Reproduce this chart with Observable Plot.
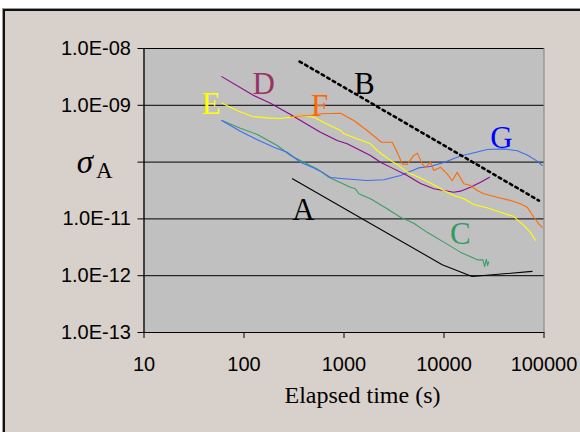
<!DOCTYPE html>
<html>
<head>
<meta charset="utf-8">
<script src="https://cdn.jsdelivr.net/npm/d3@7"></script>
<script src="https://cdn.jsdelivr.net/npm/@observablehq/plot@0.6"></script>
<style>
  html, body { margin: 0; padding: 0; background: #fff; }
  #wrap { position: relative; width: 580px; height: 432px; overflow: hidden; background: #fff; }
  #panel { position: absolute; left: 3px; top: 9px; width: 580px; height: 430px;
           background: #d8d0ca; border-left: 2px solid #111; border-top: 2px solid #111;
           box-shadow: -1px -1px 0 #999; }
  #chart { position: absolute; left: 0; top: 0; }
</style>
</head>
<body>
<div id="wrap"><div id="panel"></div><div id="chart"></div></div>
<script>
// ---- axis ticks ----
const xTicks = [10, 100, 1000, 10000, 100000];
const xTickLabels = ["10", "100", "1000", "10000", "100000"];
const yTicks = [1e-13, 1e-12, 1e-11, 1e-10, 1e-9, 1e-8];
const yTickLabels = ["1.0E-13", "1.0E-12", "1.0E-11", "", "1.0E-09", "1.0E-08"];
const xTitle = "Elapsed time (s)";

// ---- series (elapsed time s, Allan deviation) ----
const aTime  = [305, 9600, 19100, 76000];
const aSigma = [5.1e-11, 1.56e-12, 9.7e-13, 1.19e-12];

const bTime  = [360, 89000];
const bSigma = [5.9e-9, 2.1e-11];

const cTime  = [60, 92, 136, 215, 292, 396, 540, 705, 1160, 1300, 1406, 1840, 2700, 3670, 4990, 6790, 9950, 14600, 21500, 24500, 25500, 26500, 27300, 28000];
const cSigma = [5.4e-10, 3.95e-10, 3.06e-10, 1.96e-10, 1.31e-10, 9.95e-11, 7.6e-11, 5.4e-11, 3.6e-11, 3.4e-11, 2.77e-11, 2.26e-11, 1.51e-11, 1.07e-11, 8.4e-12, 5.8e-12, 3.9e-12, 2.6e-12, 1.9e-12, 1.9e-12, 1.45e-12, 1.95e-12, 1.5e-12, 1.75e-12];

const dTime  = [60, 125, 184, 292, 429, 582, 855, 1076, 1462, 1840, 2317, 3150, 4285, 5820, 7910, 9950, 12530, 14600, 18400, 23200, 28500];
const dSigma = [3.2e-9, 1.49e-9, 1.09e-9, 6.9e-10, 4.6e-10, 3.36e-10, 2.4e-10, 2.1e-10, 1.6e-10, 1.31e-10, 9.95e-11, 7.6e-11, 5.8e-11, 4.2e-11, 3.4e-11, 3.16e-11, 2.95e-11, 3.08e-11, 3.6e-11, 4.4e-11, 5.4e-11];

const eTime  = [60, 85, 121, 171, 232, 292, 367, 499, 628, 923, 995, 1356, 1840, 2150, 2500, 2917, 3404, 4285, 5820, 7330, 9950, 12530, 15800, 19900, 27000, 36700, 49900, 62800, 73300, 82200];
const eSigma = [1.1e-9, 8.1e-10, 6.35e-10, 6.0e-10, 5.86e-10, 6.2e-10, 6.6e-10, 6.2e-10, 5.0e-10, 3.6e-10, 3.15e-10, 2.57e-10, 2.1e-10, 1.6e-10, 1.31e-10, 1.07e-10, 9.1e-11, 6.6e-11, 5.25e-11, 4.3e-11, 3.16e-11, 2.58e-11, 2.26e-11, 1.79e-11, 1.57e-11, 1.31e-11, 1.1e-11, 7.7e-12, 5.8e-12, 4.2e-12];

const fTime  = [292, 462, 582, 923, 1253, 1706, 2370, 3034, 3404, 3820, 4285, 4990, 5400, 6050, 6530, 7330, 7910, 9230, 10760, 12080, 13550, 15800, 18400, 21500, 25000, 34000, 46200, 58200, 67900, 79100, 88700, 95900];
const fSigma = [6.35e-10, 6.6e-10, 7.1e-10, 7.26e-10, 5.4e-10, 3.6e-10, 2.24e-10, 2.24e-10, 1.49e-10, 9.3e-11, 9.1e-11, 1.31e-10, 1.44e-10, 9.3e-11, 8.1e-11, 9.95e-11, 7.1e-11, 8.1e-11, 6.2e-11, 4.7e-11, 6.6e-11, 4.15e-11, 3.87e-11, 3.16e-11, 2.77e-11, 2.41e-11, 2.11e-11, 1.85e-11, 1.61e-11, 1.07e-11, 8.2e-12, 7.1e-12];

const gTime  = [60, 92, 136, 199, 270, 367, 499, 628, 733, 1076, 1706, 2500, 3670, 5560, 7330, 9950, 14600, 21500, 27000, 39600, 54000, 67900, 85500, 95900];
const gSigma = [5.4e-10, 3.5e-10, 2.47e-10, 1.83e-10, 1.49e-10, 9.95e-11, 7.9e-11, 6.4e-11, 5.36e-11, 5.04e-11, 4.74e-11, 4.88e-11, 5.8e-11, 7.9e-11, 8.4e-11, 9.85e-11, 1.28e-10, 1.51e-10, 1.67e-10, 1.71e-10, 1.58e-10, 1.33e-10, 1.04e-10, 8.7e-11];

// ---- series labels ----
const labelNames = ["A", "B", "C", "D", "E", "F", "G"];
const labelTime  = [394, 1600, 14600, 157, 47, 569, 37600];
const labelSigma = [1.41e-11, 2.32e-9, 5.5e-12, 2.32e-9, 1.03e-9, 9.5e-10, 2.6e-10];
const labelColors = ["#000000", "#000000", "#339966", "#993366", "#ffff00", "#ff6600", "#0000ff"];

const toRows = (ts, ss) => ts.map((t, i) => ({t, s: ss[i]}));
const labels = labelNames.map((n, i) => ({n, t: labelTime[i], s: labelSigma[i], c: labelColors[i]}));
const yLabelMap = new Map(yTicks.map((d, i) => [d, yTickLabels[i]]));
const xLabelMap = new Map(xTicks.map((d, i) => [d, xTickLabels[i]]));

const serif = "'Liberation Serif', 'Times New Roman', serif";
const line = (ts, ss, stroke, extra = {}) =>
  Plot.line(toRows(ts, ss), {x: "t", y: "s", stroke, strokeWidth: 1.1, ...extra});

const chart = Plot.plot({
  width: 580, height: 432,
  marginLeft: 143.5, marginRight: 36.5, marginTop: 48, marginBottom: 100,
  style: {background: "transparent", fontFamily: "'Liberation Sans', Arial, sans-serif", color: "#000"},
  x: {type: "log", domain: [10, 100000]},
  y: {type: "log", domain: [1e-13, 1e-8]},
  marks: [
    Plot.frame({fill: "#c0c0c0", stroke: "#808080"}),
    Plot.gridY(yTicks, {stroke: "#000", strokeOpacity: 1, strokeWidth: 1}),
    Plot.ruleX([10], {stroke: "#000", strokeWidth: 1.2}),
    Plot.ruleY([1e-13], {stroke: "#000", strokeWidth: 1.2}),
    Plot.axisY(yTicks, {tickFormat: d => yLabelMap.get(d), tickSize: 6, tickPadding: 7, fontSize: 20, label: null, stroke: "#000"}),
    Plot.axisX(xTicks, {tickFormat: d => xLabelMap.get(d), tickSize: 6, tickPadding: 18, fontSize: 20, label: null, stroke: "#000"}),
    Plot.text([xTitle], {frameAnchor: "bottom", dx: 18.5, dy: 70, fontSize: 24, fontFamily: serif, fill: "#000"}),
    Plot.text(["σ"], {y: () => 1e-10, frameAnchor: "left", textAnchor: "middle", dx: -59, dy: 0.5, fontSize: 33, fontStyle: "italic", fontFamily: serif, fill: "#000"}),
    Plot.text(["A"], {y: () => 1e-10, frameAnchor: "left", textAnchor: "start", dx: -48, dy: 8.3, fontSize: 23, fontFamily: serif, fill: "#000"}),
    line(aTime, aSigma, "#000"),
    line(cTime, cSigma, "#3a9e66"),
    line(gTime, gSigma, "#3d6df0"),
    line(dTime, dSigma, "#8b0a8b"),
    line(eTime, eSigma, "#ffff00"),
    line(fTime, fSigma, "#ff6a00"),
    line(bTime, bSigma, "#000", {strokeWidth: 2.6, strokeDasharray: "2.6 3.8"}),
    Plot.text(labels, {x: "t", y: "s", text: "n", fill: "c", fontSize: 31, fontFamily: serif})
  ]
});
document.getElementById("chart").appendChild(chart);
</script>
</body>
</html>
